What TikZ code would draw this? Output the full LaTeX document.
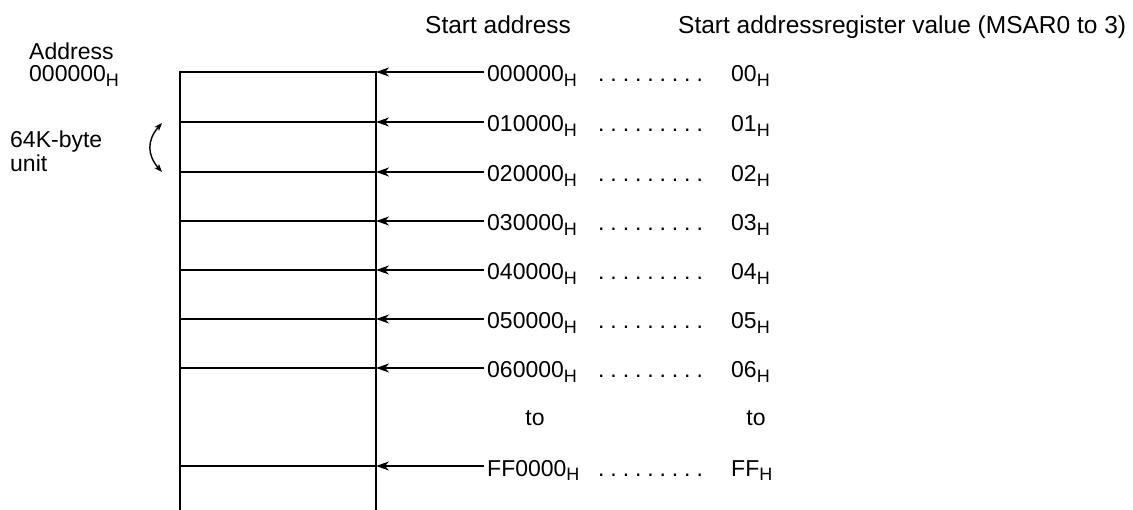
\documentclass[tikz,border=0pt]{standalone}
\usepackage{fontspec}
\setmainfont{Liberation Sans}
\usetikzlibrary{arrows.meta}
\newcommand\Hs{\raisebox{-5pt}{\fontsize{18}{18}\selectfont H}}
\newcommand\dotgap{\hskip5.9pt}
\newcommand\dotrow{.\dotgap.\dotgap.\dotgap.\dotgap.\dotgap.\dotgap.\dotgap.\dotgap.}
\begin{document}
\begin{tikzpicture}[x=1pt,y=-1pt,
  txt/.style={inner sep=0pt,anchor=base west,font=\fontsize{23}{27}\selectfont},
  head/.style={inner sep=0pt,anchor=base west,font=\fontsize{24.5}{28}\selectfont},
  boxline/.style={line width=1.6pt},
  ptr/.style={line width=1.6pt,-{Stealth[length=13pt,width=9pt,inset=4pt]}},
  unitarrow/.style={line width=1.4pt,{Stealth[length=8pt,width=6pt,inset=2pt]}-{Stealth[length=8pt,width=6pt,inset=2pt]}}
]
\useasboundingbox (0,0) rectangle (1133,510);

% headers
\node[head] (h1) at (425,34) {Start address};
\node[head] (h2) at (678,34) {Start addressregister value (MSAR0 to 3)};

% left labels
\node[txt] (addr) at (29,60) {Address};
\node[txt] (addr0) at (29,82) {000000\Hs};
\node[txt] (unit1) at (10,148) {64K-byte};
\node[txt] (unit2) at (10,172) {unit};
\coordinate (ua) at (162,123);
\coordinate (ub) at (162,172);
\draw[unitarrow] (ua) .. controls (147,140) and (147,155) .. (ub);

% memory box
\coordinate (topl) at (180,72);
\coordinate (topr) at (376,72);
\coordinate (botl) at (180,510);
\coordinate (botr) at (376,510);
\draw[boxline] (botl) -- (topl) -- (topr) -- (botr);

\foreach \i/\y/\a/\v in {0/72/000000/00,1/122/010000/01,2/172/020000/02,3/221/030000/03,
                          4/270/040000/04,5/319/050000/05,6/368/060000/06,7/466/FF0000/FF}{
  \coordinate (bl\i) at (180,\y);
  \coordinate (br\i) at (376,\y);
  \draw[boxline] (bl\i) -- (br\i);
  \node[txt,inner xsep=3pt] (s\i) at (484,\y+10) {\a\Hs};
  \node[txt] (d\i) at (598,\y+10) {\dotrow};
  \node[txt] (v\i) at (731,\y+10) {\v\Hs};
  \draw[ptr] (s\i.west |- br\i) -- (br\i);
}

% "to" rows
\node[txt,anchor=base] (to1) at (535,426) {to};
\node[txt,anchor=base] (to2) at (756,426) {to};
\end{tikzpicture}
\end{document}
